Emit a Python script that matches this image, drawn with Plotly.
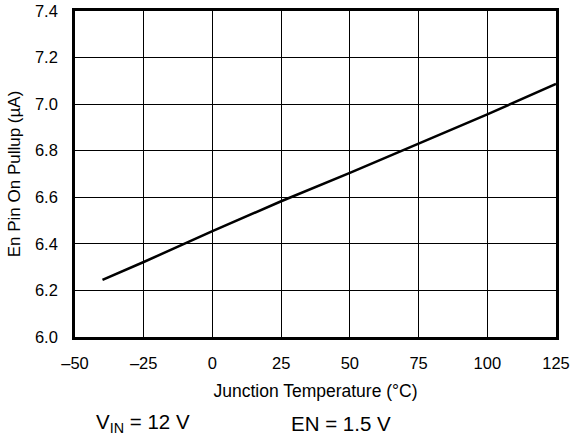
import plotly.graph_objects as go

temperature_c = [-40, -25, 0, 25, 50, 75, 100, 125]
pullup_ua = [6.245, 6.322, 6.455, 6.583, 6.705, 6.830, 6.956, 7.087]

x_ticks = [-50, -25, 0, 25, 50, 75, 100, 125]
x_tick_labels = ["\u201350", "\u201325", "0", "25", "50", "75", "100", "125"]
y_ticks = [6.0, 6.2, 6.4, 6.6, 6.8, 7.0, 7.2, 7.4]
y_tick_labels = ["6.0", "6.2", "6.4", "6.6", "6.8", "7.0", "7.2", "7.4"]

FONT = "Arial, Liberation Sans, Helvetica, sans-serif"

fig = go.Figure()
fig.add_trace(go.Scatter(
    x=temperature_c, y=pullup_ua, mode="lines",
    line=dict(color="black", width=2.5), showlegend=False, hoverinfo="skip",
))

fig.update_layout(
    width=572, height=441,
    margin=dict(l=75, r=16, t=11, b=104),
    paper_bgcolor="white", plot_bgcolor="white",
    font=dict(family=FONT, size=16, color="black"),
    xaxis=dict(
        range=[-50, 125], tickmode="array", tickvals=x_ticks, ticktext=x_tick_labels,
        showgrid=True, gridcolor="black", gridwidth=1,
        showline=True, linecolor="black", linewidth=2.7, mirror=True,
        ticks="outside", ticklen=9, tickcolor="rgba(0,0,0,0)", zeroline=False,
        automargin=False,
        title=dict(text="Junction Temperature (\u00b0C)", font=dict(size=17.5), standoff=15),
        tickfont=dict(size=16.5),
    ),
    yaxis=dict(
        range=[6.0, 7.4], tickmode="array", tickvals=y_ticks, ticktext=y_tick_labels,
        showgrid=True, gridcolor="black", gridwidth=1,
        showline=True, linecolor="black", linewidth=2.7, mirror=True,
        ticks="outside", ticklen=11, tickcolor="rgba(0,0,0,0)", zeroline=False,
        automargin=False,
        title=dict(text="En Pin On Pullup (\u00b5A)", font=dict(size=17), standoff=10),
        tickfont=dict(size=16.5),
    ),
    annotations=[
        dict(text="V<sub>IN</sub> = 12 V", xref="paper", yref="paper", x=0.141, y=-0.264,
             showarrow=False, font=dict(size=20.5), xanchor="center", yanchor="middle"),
        dict(text="EN = 1.5 V", xref="paper", yref="paper", x=0.553, y=-0.264,
             showarrow=False, font=dict(size=20.5), xanchor="center", yanchor="middle"),
    ],
)

fig.write_html("out.html", config={"displayModeBar": False},
               post_script="document.body.style.margin='0';")
